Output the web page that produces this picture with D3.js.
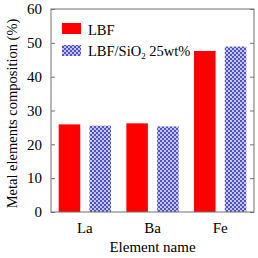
<!DOCTYPE html>
<html>
<head>
<meta charset="utf-8">
<script src="https://cdn.jsdelivr.net/npm/d3@7.9.0/dist/d3.min.js"></script>
<style>
  body { margin: 0; background: #fff; }
  svg text { font-family: "Liberation Serif", "Times New Roman", serif; }
</style>
</head>
<body>
<svg id="chart" width="258" height="258"></svg>
<script>
const elements = ['La', 'Ba', 'Fe'];
const seriesNames = ['LBF', 'LBF/SiO2 25wt%'];
const lbf = [25.9, 26.2, 47.6];
const lbfSio2 = [25.5, 25.3, 48.9];
const yTicks = [0, 10, 20, 30, 40, 50, 60];

const svg = d3.select('#chart');
const margin = { left: 51, right: 4, top: 9, bottom: 46 };
const W = 258, H = 258;

// checkered blue fill
const defs = svg.append('defs');
const pat = defs.append('pattern')
  .attr('id', 'checker')
  .attr('patternUnits', 'userSpaceOnUse')
  .attr('width', 4).attr('height', 4);
pat.append('rect').attr('width', 4).attr('height', 4).attr('fill', '#c4c4f2');
pat.append('rect').attr('x', 0).attr('y', 0).attr('width', 2).attr('height', 2).attr('fill', '#5252c8');
pat.append('rect').attr('x', 2).attr('y', 2).attr('width', 2).attr('height', 2).attr('fill', '#5252c8');

const x = d3.scaleBand()
  .domain(elements)
  .range([margin.left, W - margin.right]);

const sub = d3.scaleBand()
  .domain(seriesNames)
  .range([0, x.bandwidth()])
  .paddingInner(0.3)
  .paddingOuter(0.25);

const y = d3.scaleLinear()
  .domain([0, 60])
  .range([H - margin.bottom, margin.top]);

const fills = ['#ff0000', 'url(#checker)'];
const series = [lbf, lbfSio2];

series.forEach((vals, s) => {
  svg.append('g').selectAll('rect')
    .data(vals)
    .join('rect')
    .attr('x', (d, i) => x(elements[i]) + sub(seriesNames[s]))
    .attr('y', d => y(d))
    .attr('width', sub.bandwidth())
    .attr('height', d => y(0) - y(d))
    .attr('fill', fills[s]);
});

// frame
const axisColor = '#707070';
svg.append('rect')
  .attr('x', margin.left).attr('y', margin.top)
  .attr('width', W - margin.left - margin.right)
  .attr('height', H - margin.top - margin.bottom)
  .attr('fill', 'none').attr('stroke', axisColor).attr('stroke-width', 1);

// left axis with inward ticks
const yAxisL = svg.append('g')
  .attr('transform', `translate(${margin.left},0)`)
  .call(d3.axisLeft(y).tickValues(yTicks).tickSizeInner(-4).tickSizeOuter(0).tickPadding(9));
yAxisL.select('.domain').remove();
yAxisL.selectAll('line').attr('stroke', axisColor);
yAxisL.selectAll('text').attr('font-size', 15).attr('fill', '#000');

const yAxisR = svg.append('g')
  .attr('transform', `translate(${W - margin.right},0)`)
  .call(d3.axisRight(y).tickValues(yTicks).tickSizeInner(-4).tickSizeOuter(0).tickFormat(''));
yAxisR.select('.domain').remove();
yAxisR.selectAll('line').attr('stroke', axisColor);

// x axis labels
const xAxis = svg.append('g')
  .attr('transform', `translate(0,${H - margin.bottom})`)
  .call(d3.axisBottom(x).tickSize(0).tickPadding(10));
xAxis.select('.domain').remove();
xAxis.selectAll('text').attr('font-size', 15).attr('fill', '#000');

// axis titles
svg.append('text')
  .attr('x', (margin.left + W - margin.right) / 2)
  .attr('y', 252)
  .attr('text-anchor', 'middle')
  .attr('font-size', 15)
  .text('Element name');

svg.append('text')
  .attr('transform', `translate(17,${(margin.top + H - margin.bottom) / 2 + 3}) rotate(-90)`)
  .attr('text-anchor', 'middle')
  .attr('font-size', 14.5)
  .text('Metal elements composition (%)');

// legend
const legend = svg.append('g');
const legendRows = [
  { fill: fills[0], y: 23 },
  { fill: fills[1], y: 45 }
];
legendRows.forEach((r, i) => {
  legend.append('rect')
    .attr('x', 62).attr('y', r.y)
    .attr('width', 19).attr('height', 11)
    .attr('fill', r.fill);
});
legend.append('text')
  .attr('x', 88).attr('y', 34.5)
  .attr('font-size', 14.5)
  .text('LBF');
const t2 = legend.append('text')
  .attr('x', 88).attr('y', 56)
  .attr('font-size', 14.5);
t2.append('tspan').text('LBF/SiO');
t2.append('tspan').attr('font-size', 9).attr('dy', 3).text('2');
t2.append('tspan').attr('dy', -3).text(' 25wt%');
</script>
</body>
</html>
